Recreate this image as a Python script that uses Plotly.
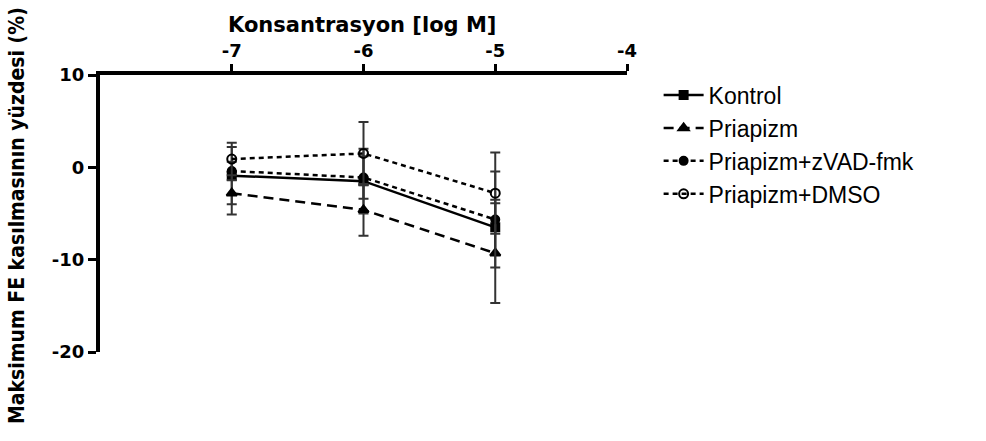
import plotly.graph_objects as go

conc = [-7, -6, -5]
series_names = ["Kontrol", "Priapizm", "Priapizm+zVAD-fmk", "Priapizm+DMSO"]
kontrol = [-0.9, -1.5, -6.5]
kontrol_err = [3.1, 3.5, 3.0]
priapizm = [-2.8, -4.6, -9.3]
priapizm_err = [2.3, 2.8, 5.4]
zvad = [-0.4, -1.1, -5.65]
zvad_err = [1.0, 2.3, 5.2]
dmso = [0.9, 1.5, -2.8]
dmso_err = [1.75, 3.4, 4.4]

y_ticks = [-20, -10, 0, 10]
x_ticks = [-7, -6, -5, -4]

styles = [
    dict(dash="solid", symbol="square", size=8, lw=2.5),
    dict(dash="10px,6px", symbol="triangle-up", size=9, lw=2.5),
    dict(dash="5px,4px", symbol="circle", size=8, lw=2.5),
    dict(dash="5px,4px", symbol="circle-open", size=9, lw=2.5),
]
values = [kontrol, priapizm, zvad, dmso]
errors = [kontrol_err, priapizm_err, zvad_err, dmso_err]

fig = go.Figure()
for name, vals, errs, st in zip(series_names, values, errors, styles):
    fig.add_trace(go.Scatter(
        x=conc, y=vals, name=name, mode="lines+markers",
        line=dict(color="black", width=st["lw"], dash=st["dash"]),
        marker=dict(symbol=st["symbol"], size=st["size"], color="black",
                    line=dict(color="black", width=2)),
        error_y=dict(type="data", array=errs, visible=True,
                     color="#333333", thickness=2, width=5),
    ))

tick_font = dict(size=18, family="DejaVu Sans", color="black", weight="bold")
fig.update_layout(
    width=986, height=441,
    margin=dict(l=100, r=359, t=75, b=89, autoexpand=False),
    plot_bgcolor="white", paper_bgcolor="white",
    font=dict(family="Liberation Sans, Arial, sans-serif", color="black"),
    showlegend=True,
    legend=dict(x=1.06, y=1.005, xanchor="left", yanchor="top",
                font=dict(size=23, family="Liberation Sans, Arial", color="black"),
                tracegroupgap=0, itemwidth=40, bgcolor="rgba(0,0,0,0)"),
    xaxis=dict(range=[-8, -4], side="top", tickvals=x_ticks,
               ticktext=[str(t) for t in x_ticks], automargin=False,
               showline=True, linewidth=4, linecolor="black",
               ticks="outside", tickwidth=3, ticklen=7, tickcolor="black",
               showgrid=False, zeroline=False, tickfont=tick_font),
    yaxis=dict(range=[-20, 10], tickvals=y_ticks,
               ticktext=[str(t) for t in y_ticks], automargin=False,
               showline=True, linewidth=4, linecolor="black",
               ticks="outside", tickwidth=3, ticklen=8, tickcolor="black",
               showgrid=False, zeroline=False, tickfont=tick_font),
    annotations=[
        dict(text="<b>Konsantrasyon [log M]</b>", xref="paper", yref="paper",
             x=(362 - 100) / 527, y=1 + (75 - 25) / 277, xanchor="center", yanchor="middle",
             showarrow=False, font=dict(size=21, family="DejaVu Sans", color="black")),
        dict(text="<b>Maksimum FE kasılmasının yüzdesi (%)</b>", xref="paper", yref="paper",
             x=(17 - 100) / 527, y=(352 - 216) / 277, xanchor="center", yanchor="middle",
             textangle=-90, showarrow=False,
             font=dict(size=21, family="DejaVu Sans Condensed, DejaVu Sans", color="black")),
    ],
)

fig.write_html("out.html", config={"displayModeBar": False},
               post_script="document.body.style.margin='0';")
